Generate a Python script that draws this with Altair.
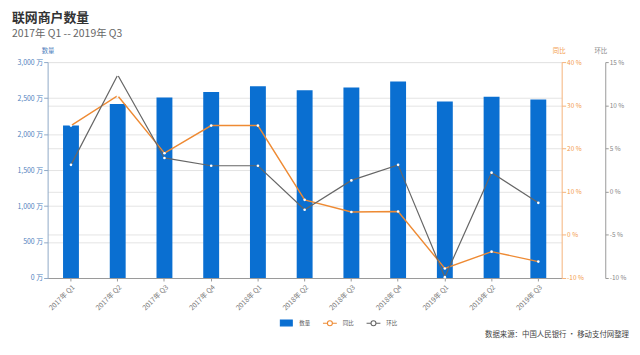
import altair as alt
import pandas as pd

quarters = ["2017年 Q1", "2017年 Q2", "2017年 Q3", "2017年 Q4", "2018年 Q1", "2018年 Q2",
            "2018年 Q3", "2018年 Q4", "2019年 Q1", "2019年 Q2", "2019年 Q3"]
counts = [2120, 2418, 2509, 2583, 2665, 2610, 2647, 2729, 2454, 2518, 2481]
yoy = [25.3, 32.2, 18.9, 25.3, 25.3, 8.1, 5.3, 5.4, -7.8, -3.9, -6.2]
qoq = [3.1, 13.5, 3.9, 3.0, 3.0, -2.1, 1.3, 3.1, -9.9, 2.2, -1.3]
series = ["数量", "同比", "环比"]

FONT = "Noto Sans CJK SC"
BLUE = "#0a6fd1"
ORANGE = "#ee8a33"
GRAY = "#666666"

df = pd.DataFrame({"q": quarters, "count": counts, "yoy": yoy, "qoq": qoq})

x = alt.X("q:N", sort=quarters, title=None,
          scale=alt.Scale(paddingInner=0.66, paddingOuter=0.33),
          axis=alt.Axis(labelAngle=315, labelFontSize=7, labelColor="#777", labelFont=FONT,
                        domainColor="#999", tickColor="#999", tickSize=3, labelPadding=2))

base = alt.Chart(df).encode(x=x)

bars = base.mark_bar(color=BLUE).encode(
    y=alt.Y("count:Q", scale=alt.Scale(domain=[0, 3000], nice=False),
            axis=alt.Axis(orient="left", values=[0, 500, 1000, 1500, 2000, 2500, 3000],
                          labelExpr="format(datum.value, ',') + ' 万'",
                          labelFontSize=7, labelColor="#4f81bd", labelFont=FONT,
                          domainColor="#8fa9c7", tickColor="#8fa9c7", tickSize=4, labelPadding=1,
                          grid=True, gridColor="#e4e4e4",
                          title="数量", titleAngle=0, titleX=0, titleY=-12, titleAlign="center",
                          titleBaseline="middle", titleFontSize=6.5, titleColor="#4f81bd",
                          titleFont=FONT, titleFontWeight="normal"))
)

line_yoy = base.mark_line(color=ORANGE, strokeWidth=1.4,
                          point=alt.OverlayMarkDef(filled=True, fill="white", color="white", size=7)).encode(
    y=alt.Y("yoy:Q", scale=alt.Scale(domain=[-10, 40], nice=False),
            axis=alt.Axis(orient="right", values=[-10, 0, 10, 20, 30, 40],
                          labelExpr="datum.value + ' %'",
                          labelFontSize=6.5, labelColor="#f39b4c", labelFont=FONT,
                          domainColor="#f5b27a", tickColor="#f5b27a", tickSize=4, labelPadding=1,
                          grid=True, gridColor="#e4e4e4",
                          title="同比", titleAngle=0, titleX=-3, titleY=-12, titleAlign="center",
                          titleBaseline="middle", titleFontSize=6.5, titleColor="#f39b4c",
                          titleFont=FONT, titleFontWeight="normal"))
)

line_qoq = base.mark_line(color=GRAY, strokeWidth=1.2,
                          point=alt.OverlayMarkDef(filled=True, fill="white", color="white", size=7)).encode(
    y=alt.Y("qoq:Q", scale=alt.Scale(domain=[-10, 15], nice=False),
            axis=alt.Axis(orient="right", offset=44, values=[-10, -5, 0, 5, 10, 15],
                          labelExpr="datum.value + ' %'",
                          labelFontSize=6.5, labelColor="#888", labelFont=FONT,
                          domainColor="#999", tickColor="#999", tickSize=3, labelPadding=1,
                          grid=False,
                          title="环比", titleAngle=0, titleX=-5, titleY=-12, titleAlign="center",
                          titleBaseline="middle", titleFontSize=6.5, titleColor="#888",
                          titleFont=FONT, titleFontWeight="normal"))
)

rect_path = "M-0.6,-0.3 L0.6,-0.3 L0.6,0.3 L-0.6,0.3 Z"
lc_path = ("M-0.7,0 L-0.25,0 M0.25,0 L0.7,0 M-0.25,0 A0.25,0.25 0 1,1 0.25,0 "
           "A0.25,0.25 0 1,1 -0.25,0 Z")

leg_df = pd.DataFrame({"s": series})
legend = alt.Legend(orient="none", legendX=230, legendY=252, direction="horizontal",
                    title=None, labelFontSize=5.5, labelColor="#595959", labelFont=FONT,
                    symbolSize=400, symbolStrokeWidth=1.1, columnPadding=8, labelOffset=2,
                    symbolOpacity=1)
legend_layer = alt.Chart(leg_df).mark_point(opacity=0, size=400).encode(
    fill=alt.Fill("s:N", sort=series, scale=alt.Scale(domain=series, range=[BLUE, "white", "white"]), legend=legend),
    stroke=alt.Stroke("s:N", sort=series, scale=alt.Scale(domain=series, range=[BLUE, ORANGE, GRAY]), legend=legend),
    shape=alt.Shape("s:N", sort=series, scale=alt.Scale(domain=series, range=[rect_path, lc_path, lc_path]), legend=legend),
)

source = alt.Chart(pd.DataFrame({"t": ["数据来源：中国人民银行 • 移动支付网整理"]})).mark_text(
    align="right", baseline="alphabetic", fontSize=7.5, color="#444", font=FONT
).encode(text="t:N", x=alt.value(587), y=alt.value(278))

chart = alt.layer(bars, line_yoy, line_qoq, legend_layer, source).resolve_scale(
    y="independent"
).properties(
    width=519, height=218,
    autosize=alt.AutoSizeParams(type="none"),
    padding={"left": 40, "top": 53, "right": 71, "bottom": 63},
    title=alt.TitleParams(text="联网商户数量", subtitle="2017年 Q1 -- 2019年 Q3", anchor="start",
                          frame="group", dx=-36, fontSize=13, fontWeight="bold", color="#333",
                          font=FONT, subtitleFont=FONT, subtitleFontSize=10.5, subtitleColor="#666",
                          subtitlePadding=4, offset=8),
).configure_view(stroke=None)

chart.save("out.html", embed_options={"renderer": "svg", "actions": False})
